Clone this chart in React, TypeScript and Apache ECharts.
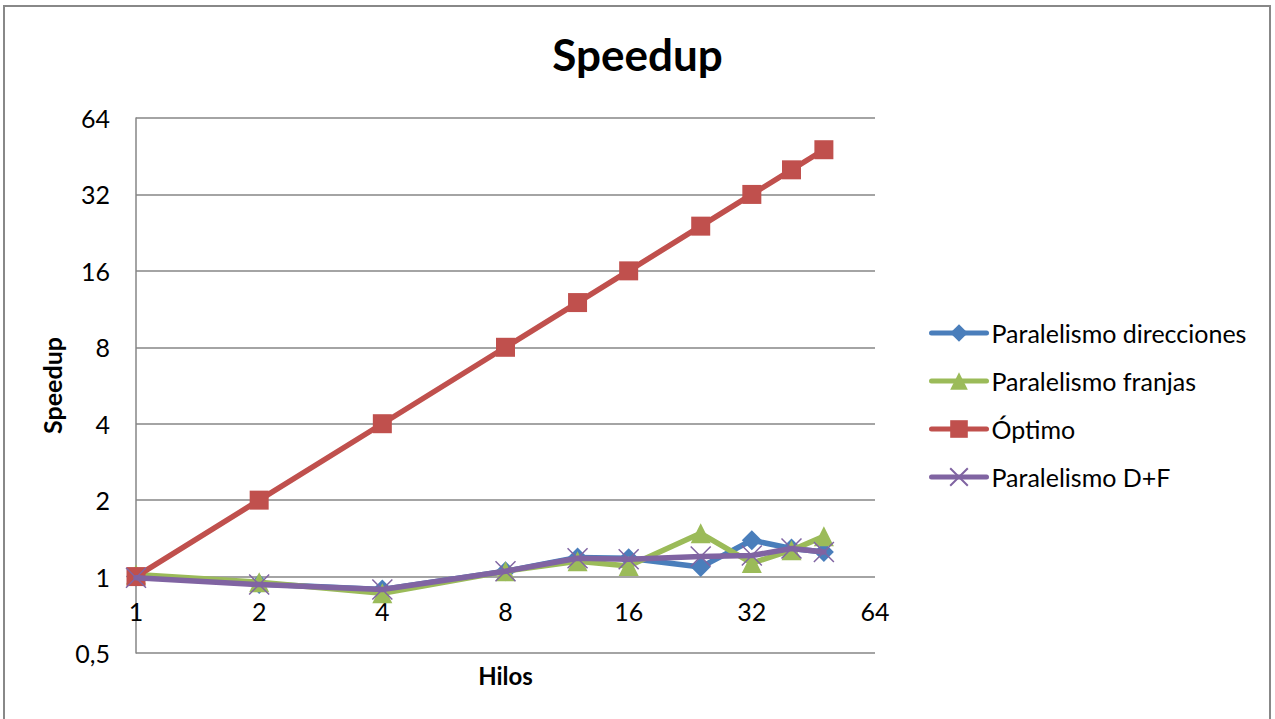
import { useEffect, useRef } from "react";
import * as echarts from "echarts";

// Threads used in each run
const hilos = [1, 2, 4, 8, 12, 16, 24, 32, 40, 48];

// Speedup measured per strategy
const direcciones = [1.0, 0.935, 0.89, 1.05, 1.19, 1.18, 1.09, 1.39, 1.29, 1.25];
const franjas = [1.02, 0.95, 0.86, 1.05, 1.15, 1.1, 1.48, 1.13, 1.27, 1.44];
const optimo = [1, 2, 4, 8, 12, 16, 24, 32, 40, 48];
const dmasf = [0.99, 0.93, 0.89, 1.05, 1.18, 1.17, 1.2, 1.21, 1.29, 1.25];

const seriesNames = [
  "Paralelismo direcciones",
  "Paralelismo franjas",
  "Óptimo",
  "Paralelismo D+F",
];

const FONT = "Lato, 'Noto Sans', sans-serif";

const pairs = (ys: number[]) => hilos.map((x, i) => [x, ys[i]]);

export default function App() {
  const ref = useRef<HTMLDivElement>(null);

  useEffect(() => {
    if (!ref.current) return;
    const chart = echarts.init(ref.current, undefined, { renderer: "svg" });

    const lineSeries = (
      name: string,
      ys: number[],
      color: string,
      symbol: string,
      extra: any = {}
    ) => ({
      type: "line",
      name,
      data: pairs(ys),
      symbol,
      symbolSize: 20,
      showSymbol: true,
      lineStyle: { color, width: 5.5, join: "round", cap: "round" },
      itemStyle: { color, borderColor: color, borderWidth: 0 },
      emphasis: { disabled: true },
      ...extra,
    });

    chart.setOption({
      animation: false,
      backgroundColor: "#ffffff",
      textStyle: { fontFamily: FONT },
      title: {
        text: "Speedup",
        left: "center",
        top: 27,
        textStyle: {
          fontFamily: FONT,
          fontSize: 44,
          fontWeight: "bold",
          color: "#000",
        },
      },
      graphic: [
        {
          type: "rect",
          z: -10,
          shape: { x: 4, y: 6, width: 1266, height: 760 },
          style: { fill: "none", stroke: "#888888", lineWidth: 2 },
        },
      ],
      legend: {
        orient: "vertical",
        left: 929,
        top: 319,
        padding: 0,
        itemWidth: 55,
        itemHeight: 22,
        itemGap: 20,
        data: seriesNames,
        lineStyle: { width: 5 },
        textStyle: {
          fontFamily: FONT,
          fontSize: 25,
          lineHeight: 28,
          color: "#000",
        },
      },
      grid: { left: 136, right: 400, top: 118, bottom: 66, containLabel: false },
      xAxis: {
        type: "log",
        logBase: 2,
        min: 1,
        max: 64,
        offset: -76,
        name: "Hilos",
        nameLocation: "middle",
        nameGap: 86,
        nameTextStyle: {
          fontFamily: FONT,
          fontSize: 24,
          fontWeight: "bold",
          color: "#000",
        },
        axisLine: { show: false },
        axisTick: { show: false },
        splitLine: { show: false },
        minorTick: { show: false },
        axisLabel: {
          fontFamily: FONT,
          fontSize: 25,
          color: "#000",
          margin: 21,
          showMaxLabel: true,
          showMinLabel: true,
        },
      },
      yAxis: {
        type: "log",
        logBase: 2,
        min: 0.5,
        max: 64,
        name: "Speedup",
        nameLocation: "middle",
        nameRotate: 90,
        nameGap: 69,
        nameTextStyle: {
          fontFamily: FONT,
          fontSize: 25,
          fontWeight: "bold",
          color: "#000",
        },
        axisLine: { show: true, lineStyle: { color: "#868686", width: 1.5 } },
        axisTick: { show: false },
        splitLine: { show: true, lineStyle: { color: "#868686", width: 1.5 } },
        axisLabel: {
          fontFamily: FONT,
          fontSize: 25,
          color: "#000",
          margin: 26,
          formatter: (v: number) => String(v).replace(".", ","),
        },
      },
      series: [
        lineSeries(seriesNames[0], direcciones, "#4A7EBB", "diamond", { z: 2 }),
        lineSeries(seriesNames[1], franjas, "#9BBB59", "triangle", { z: 3 }),
        lineSeries(seriesNames[2], optimo, "#C0504D", "rect", { z: 4, symbolSize: 19 }),
        lineSeries(seriesNames[3], dmasf, "#8064A2", "path://M0,0L20,20M20,0L0,20", {
          z: 5,
          itemStyle: { color: "#8064A2", borderColor: "#8064A2", borderWidth: 1.5 },
        }),
      ],
    });

    return () => chart.dispose();
  }, []);

  return (
    <div
      ref={ref}
      style={{
        position: "fixed",
        left: 0,
        top: 0,
        width: 1275,
        height: 719,
        background: "#fff",
      }}
    />
  );
}
